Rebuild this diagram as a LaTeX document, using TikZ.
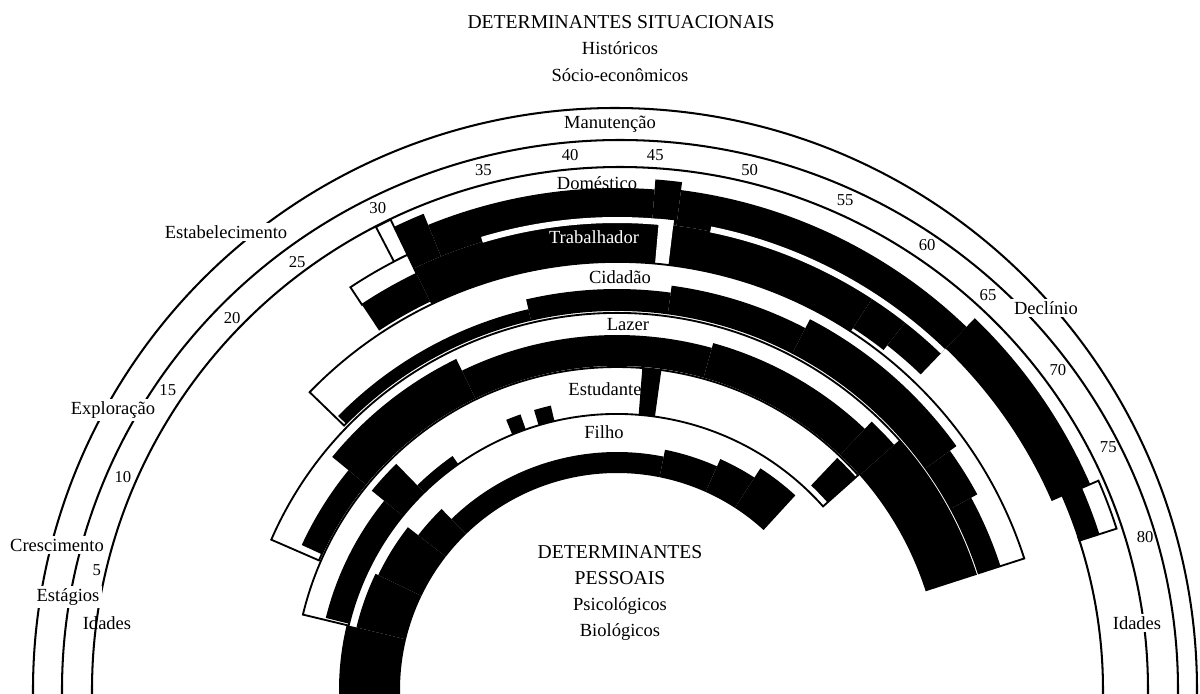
\documentclass[tikz,border=0pt]{standalone}
\usepackage{fontspec}
\setmainfont{Liberation Serif}
\tikzset{
  blk/.style={fill=black},
  gap/.style={fill=white},
  box/.style={draw=black, line width=1pt, fill=white},
  arcline/.style={line width=1.1pt},
  lbl/.style={fill=white, inner sep=1.5pt},
  num/.style={font=\small, inner sep=1pt},
  caps/.style={font=\fontsize{10.6}{12}\selectfont},
}
% one piece of a ring: [style] {age from}{age to}{inner radius}{outer radius}
\newcommand{\ringpart}[5][blk]{%
  \path[#1] ({176.5-2*#2}:#4) arc[start angle={176.5-2*#2}, end angle={176.5-2*#3}, radius=#4]
    -- ({176.5-2*#3}:#5) arc[start angle={176.5-2*#3}, end angle={176.5-2*#2}, radius=#5] -- cycle;}

\begin{document}
\begin{tikzpicture}[x=0.54pt, y=0.54pt]
  \clip (-617,-3) rectangle (583,690);
  % outer arcs: stages and ages
  \draw[arcline] (-2,0) ++(-1:582) arc[start angle=-1, end angle=181, radius=582];
  \draw[arcline] (3,0) ++(-1:558 and 550) arc[start angle=-1, end angle=181, x radius=558, y radius=550];
  \draw[arcline] (3,0) ++(-1:528 and 523) arc[start angle=-1, end angle=181, x radius=528, y radius=523];
  \draw[arcline] (18.5:486) arc[start angle=18.5, end angle=-1, radius=486];
  % domestico
  \ringpart[box]{29.5}{30.4}{483}{522}
  \ringpart[box]{76.5}{79.3}{486}{525}
  \ringpart{30.4}{32.2}{468}{514}
  \ringpart{32.2}{45.4}{468}{502}
  \ringpart{45.4}{46.9}{468}{512}
  \ringpart{46.9}{65.2}{468}{504}
  \ringpart{65.2}{76.5}{474}{516}
  \ringpart{76.5}{79.3}{486}{507}
  % trabalhador
  \ringpart[box]{26.5}{30.4}{462}{483}
  \ringpart{26.5}{30.4}{431}{462}
  \ringpart{30.4}{59.8}{428}{468}
  \ringpart{59.8}{62.3}{432}{468}
  \ringpart{62.3}{65.2}{438}{468}
  \ringpart[gap]{34.9}{46.7}{467}{473}
  \ringpart[gap]{45.8}{46.7}{428}{473}
  \ringpart[gap]{49}{65.2}{467}{473}
  % cidadao
  \ringpart[box]{20.3}{79.3}{380}{428}
  \ringpart{20.5}{36.7}{380}{391}
  \ringpart{36.7}{47.1}{380}{401}
  \ringpart{47.1}{57}{380}{408}
  \ringpart{57}{70.4}{380}{418}
  \ringpart{70.4}{74}{380}{410}
  \ringpart{74}{79.3}{380}{403}
  % lazer
  \ringpart[box]{10}{79.3}{325}{377}
  \ringpart{10.6}{17.9}{325}{347}
  \ringpart{17.9}{30.3}{325}{368}
  \ringpart{30.3}{51}{325}{355}
  \ringpart{51}{65}{325}{360}
  \ringpart{65}{67.5}{325}{370}
  \ringpart{67.5}{79.3}{325}{377}
  % estudante
  \ringpart[box]{5}{67.4}{276}{323}
  \ringpart{5.2}{17.8}{276}{300}
  \ringpart{17.8}{21.1}{276}{316}
  \ringpart{21.1}{25.7}{276}{286}
  \ringpart{32.1}{33.6}{276}{292}
  \ringpart{35}{36.7}{276}{292}
  \ringpart{45.5}{47.2}{276}{323}
  \ringpart{65}{67.4}{282}{320}
  % filho
  \ringpart{-5}{5}{217}{278}
  \ringpart{5}{11.1}{217}{268}
  \ringpart{11.1}{17.2}{217}{265}
  \ringpart{17.2}{21.2}{217}{252}
  \ringpart{21.2}{48.9}{217}{238}
  \ringpart{48.9}{55.3}{217}{245}
  \ringpart{55.3}{59.7}{217}{253}
  \ringpart{59.7}{64.5}{217}{264}
  % ages: age/angle/radius
  \foreach \a/\t/\r in {5/167/534, 10/156.7/538, 15/146.3/540, 20/136/535,
      25/126.8/534, 30/116.4/538, 35/104.4/537, 40/95/537, 45/85.9/536,
      50/75.7/537, 55/65/540, 60/55.1/542, 65/46.8/542, 70/36/545,
      75/26.3/548, 80/16.2/550}
    \node[num] (age\a) at (\t:\r) {\a};
  % stages
  \node[lbl] (manut) at (-7,566) {Manutenção};
  \node[lbl] (estab) at (-391,458) {Estabelecimento};
  \node[lbl] (explo) at (-504,280) {Exploração};
  \node[lbl] (cresc) at (-560,145) {Crescimento};
  \node[lbl] (estag) at (-549,93) {Estágios};
  \node[inner sep=1pt] (idadl) at (-510,67) {Idades};
  \node[lbl] (decli) at (429,382) {Declínio};
  \node[lbl] (idadr) at (520,67) {Idades};
  % roles
  \node (domes) at (-20,507) {Doméstico};
  \node[text=white] (traba) at (-23,453) {Trabalhador};
  \node (cidad) at (3,413) {Cidadão};
  \node (lazer) at (11,365) {Lazer};
  \node (estud) at (-12,301) {Estudante};
  \node (filho) at (-13,258) {Filho};
  % determinants
  \node[caps] (sit) at (4,668) {DETERMINANTES SITUACIONAIS};
  \node (hist) at (3,642) {Históricos};
  \node (socio) at (3,615) {Sócio-econômicos};
  \node[caps] (pes1) at (3,138) {DETERMINANTES};
  \node[caps] (pes2) at (3,112) {PESSOAIS};
  \node (psic) at (3,84) {Psicológicos};
  \node (biol) at (3,58) {Biológicos};
\end{tikzpicture}
\end{document}
